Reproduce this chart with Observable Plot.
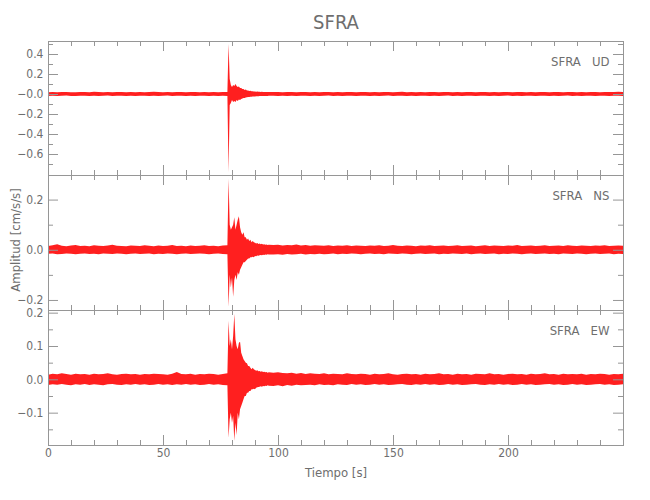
<!DOCTYPE html>
<html>
<head>
<meta charset="utf-8">
<script src="https://cdn.jsdelivr.net/npm/d3@7"></script>
<script src="https://cdn.jsdelivr.net/npm/@observablehq/plot@0.6"></script>
<style>
  html, body { margin: 0; padding: 0; background: white; }
  #chart { width: 650px; height: 500px; position: relative; }
  #chart svg { display: block; }
</style>
</head>
<body>
<div id="chart"></div>
<script>
// ---- Data ----
const stationTitle = "SFRA";
const xTitle = "Tiempo [s]";
const yTitle = "Amplitud [cm/s/s]";
const componentNames = ["SFRA\u00a0\u00a0\u00a0UD", "SFRA\u00a0\u00a0\u00a0NS", "SFRA\u00a0\u00a0\u00a0EW"];

// sample times (s) of the envelope readings
const times = [0,2,4,6,8,10,12,14,16,18,20,22,24,26,28,30,32,34,36,38,40,42,44,46,48,50,52,54,56,58,60,62,64,66,68,70,72,74,76,
78,78.5,79,79.5,80,80.5,81,81.5,82,82.5,83,83.5,84,84.5,85,85.5,86,86.5,87,87.5,88,88.5,89,89.5,90,90.5,91,91.5,92,92.5,93,93.5,94,94.5,95,95.5,96,
98,100,102,104,106,108,110,112,114,116,118,120,122,124,126,128,130,132,134,136,138,140,142,144,146,148,150,152,154,156,158,160,162,164,166,168,170,172,174,176,178,180,182,184,186,188,190,192,194,196,198,200,202,204,206,208,210,212,214,216,218,220,222,224,226,228,230,232,234,236,238,240,242,244,246,248,250];

// UD component: upper / lower envelope (cm/s/s)
const udHi = [0.018,0.020,0.017,0.019,0.021,0.018,0.017,0.020,0.019,0.018,0.022,0.019,0.017,0.020,0.018,0.019,0.021,0.018,0.020,0.017,0.019,0.018,0.020,0.023,0.019,0.018,0.020,0.017,0.019,0.021,0.018,0.020,0.019,0.018,0.020,0.017,0.019,0.018,0.020,
0.02,0.50,0.15,0.09,0.07,0.09,0.08,0.10,0.08,0.07,0.075,0.06,0.06,0.05,0.05,0.04,0.045,0.035,0.035,0.03,0.032,0.028,0.027,0.026,0.025,0.023,0.024,0.022,0.023,0.021,0.022,0.020,0.021,0.020,0.019,0.020,0.019,
0.019,0.020,0.018,0.021,0.019,0.018,0.020,0.019,0.017,0.020,0.018,0.021,0.019,0.018,0.020,0.017,0.019,0.020,0.018,0.019,0.021,0.018,0.019,0.017,0.020,0.019,0.018,0.020,0.022,0.018,0.019,0.017,0.020,0.018,0.019,0.021,0.018,0.020,0.019,0.017,0.020,0.018,0.019,0.021,0.018,0.019,0.020,0.017,0.019,0.018,0.020,0.019,0.018,0.021,0.019,0.017,0.020,0.018,0.019,0.020,0.018,0.019,0.021,0.018,0.020,0.019,0.017,0.020,0.018,0.019,0.020,0.018,0.021,0.019,0.020,0.023,0.020];
const udLo = [-0.019,-0.017,-0.020,-0.018,-0.016,-0.019,-0.021,-0.017,-0.018,-0.019,-0.017,-0.020,-0.018,-0.016,-0.019,-0.018,-0.017,-0.020,-0.018,-0.019,-0.017,-0.018,-0.020,-0.017,-0.019,-0.018,-0.016,-0.019,-0.018,-0.017,-0.020,-0.018,-0.019,-0.017,-0.018,-0.020,-0.018,-0.019,-0.017,
-0.02,-0.78,-0.11,-0.09,-0.06,-0.08,-0.07,-0.08,-0.06,-0.07,-0.055,-0.06,-0.05,-0.045,-0.04,-0.04,-0.035,-0.033,-0.03,-0.03,-0.028,-0.027,-0.025,-0.026,-0.024,-0.023,-0.022,-0.022,-0.021,-0.021,-0.020,-0.021,-0.019,-0.020,-0.019,-0.019,-0.018,
-0.018,-0.019,-0.017,-0.020,-0.018,-0.019,-0.017,-0.018,-0.020,-0.017,-0.019,-0.018,-0.016,-0.019,-0.018,-0.020,-0.017,-0.018,-0.019,-0.017,-0.018,-0.020,-0.017,-0.019,-0.018,-0.016,-0.019,-0.018,-0.017,-0.020,-0.018,-0.019,-0.017,-0.018,-0.020,-0.017,-0.019,-0.018,-0.016,-0.019,-0.018,-0.020,-0.017,-0.018,-0.019,-0.017,-0.018,-0.020,-0.017,-0.019,-0.018,-0.016,-0.019,-0.018,-0.020,-0.017,-0.018,-0.019,-0.017,-0.018,-0.020,-0.017,-0.019,-0.018,-0.016,-0.019,-0.018,-0.020,-0.017,-0.018,-0.019,-0.017,-0.018,-0.020,-0.018,-0.017,-0.019];

// NS component
const nsHi = [0.015,0.018,0.022,0.016,0.014,0.017,0.019,0.015,0.016,0.014,0.018,0.016,0.015,0.017,0.020,0.016,0.015,0.014,0.017,0.016,0.015,0.018,0.016,0.014,0.017,0.015,0.016,0.019,0.015,0.016,0.014,0.017,0.015,0.016,0.018,0.015,0.016,0.014,0.017,
0.018,0.283,0.10,0.08,0.09,0.10,0.13,0.08,0.10,0.12,0.134,0.09,0.07,0.06,0.07,0.05,0.05,0.04,0.045,0.035,0.04,0.03,0.035,0.03,0.028,0.025,0.027,0.023,0.025,0.022,0.024,0.021,0.022,0.020,0.021,0.019,0.020,
0.019,0.020,0.017,0.019,0.018,0.021,0.017,0.019,0.016,0.018,0.017,0.016,0.018,0.015,0.017,0.016,0.018,0.015,0.017,0.016,0.015,0.017,0.016,0.018,0.015,0.016,0.019,0.016,0.015,0.017,0.016,0.014,0.017,0.016,0.018,0.015,0.016,0.017,0.015,0.016,0.018,0.015,0.016,0.017,0.014,0.016,0.018,0.015,0.017,0.016,0.015,0.017,0.016,0.019,0.015,0.016,0.017,0.015,0.016,0.018,0.015,0.016,0.017,0.015,0.018,0.016,0.015,0.017,0.016,0.015,0.017,0.016,0.018,0.015,0.016,0.017,0.016];
const nsLo = [-0.016,-0.015,-0.018,-0.017,-0.015,-0.016,-0.018,-0.016,-0.015,-0.017,-0.016,-0.018,-0.015,-0.016,-0.017,-0.015,-0.016,-0.018,-0.016,-0.015,-0.017,-0.016,-0.015,-0.018,-0.016,-0.017,-0.015,-0.016,-0.018,-0.016,-0.015,-0.017,-0.016,-0.015,-0.016,-0.018,-0.016,-0.015,-0.017,
-0.018,-0.227,-0.10,-0.15,-0.11,-0.187,-0.12,-0.10,-0.12,-0.09,-0.10,-0.08,-0.07,-0.06,-0.05,-0.05,-0.045,-0.04,-0.035,-0.035,-0.03,-0.03,-0.028,-0.03,-0.025,-0.026,-0.023,-0.024,-0.022,-0.021,-0.022,-0.020,-0.021,-0.019,-0.020,-0.018,-0.019,
-0.019,-0.018,-0.020,-0.017,-0.019,-0.018,-0.016,-0.019,-0.017,-0.018,-0.016,-0.018,-0.017,-0.015,-0.018,-0.016,-0.017,-0.015,-0.016,-0.018,-0.016,-0.015,-0.017,-0.016,-0.018,-0.015,-0.016,-0.017,-0.015,-0.016,-0.018,-0.016,-0.015,-0.017,-0.016,-0.015,-0.018,-0.016,-0.017,-0.015,-0.016,-0.017,-0.015,-0.018,-0.016,-0.015,-0.017,-0.016,-0.015,-0.018,-0.016,-0.017,-0.015,-0.016,-0.018,-0.016,-0.015,-0.017,-0.016,-0.015,-0.017,-0.016,-0.018,-0.015,-0.016,-0.017,-0.015,-0.016,-0.018,-0.016,-0.015,-0.017,-0.016,-0.015,-0.018,-0.016,-0.017];

// EW component
const ewHi = [0.014,0.017,0.015,0.018,0.016,0.014,0.017,0.015,0.016,0.014,0.017,0.015,0.016,0.018,0.015,0.014,0.016,0.017,0.015,0.016,0.014,0.016,0.015,0.017,0.016,0.015,0.014,0.017,0.022,0.016,0.015,0.017,0.014,0.016,0.015,0.017,0.016,0.014,0.016,
0.018,0.176,0.10,0.12,0.09,0.13,0.196,0.12,0.10,0.09,0.11,0.113,0.08,0.07,0.06,0.055,0.05,0.048,0.04,0.04,0.035,0.03,0.035,0.03,0.028,0.026,0.027,0.024,0.025,0.023,0.024,0.022,0.023,0.021,0.022,0.020,0.021,
0.020,0.021,0.019,0.018,0.020,0.017,0.019,0.016,0.018,0.017,0.016,0.018,0.015,0.017,0.016,0.015,0.018,0.016,0.015,0.017,0.016,0.014,0.017,0.015,0.016,0.018,0.015,0.014,0.016,0.017,0.015,0.016,0.014,0.017,0.015,0.016,0.018,0.015,0.016,0.014,0.017,0.015,0.016,0.014,0.017,0.016,0.015,0.018,0.015,0.016,0.014,0.016,0.017,0.015,0.016,0.014,0.017,0.015,0.016,0.018,0.015,0.016,0.014,0.017,0.015,0.016,0.015,0.017,0.014,0.016,0.015,0.017,0.016,0.014,0.016,0.015,0.017];
const ewLo = [-0.017,-0.015,-0.016,-0.014,-0.016,-0.018,-0.015,-0.016,-0.014,-0.017,-0.015,-0.016,-0.018,-0.015,-0.014,-0.016,-0.017,-0.015,-0.016,-0.014,-0.016,-0.015,-0.017,-0.016,-0.014,-0.016,-0.015,-0.017,-0.015,-0.016,-0.014,-0.016,-0.015,-0.017,-0.016,-0.014,-0.016,-0.015,-0.017,
-0.018,-0.175,-0.12,-0.10,-0.13,-0.11,-0.184,-0.13,-0.167,-0.10,-0.12,-0.09,-0.08,-0.07,-0.06,-0.05,-0.05,-0.04,-0.04,-0.035,-0.035,-0.03,-0.03,-0.028,-0.03,-0.025,-0.024,-0.023,-0.022,-0.021,-0.022,-0.020,-0.021,-0.019,-0.020,-0.018,-0.019,
-0.020,-0.018,-0.021,-0.017,-0.019,-0.016,-0.018,-0.017,-0.016,-0.018,-0.015,-0.017,-0.016,-0.018,-0.015,-0.016,-0.017,-0.014,-0.016,-0.015,-0.017,-0.016,-0.014,-0.016,-0.015,-0.017,-0.016,-0.015,-0.014,-0.016,-0.017,-0.015,-0.016,-0.014,-0.016,-0.015,-0.017,-0.016,-0.014,-0.016,-0.015,-0.017,-0.016,-0.015,-0.014,-0.016,-0.017,-0.015,-0.016,-0.014,-0.016,-0.015,-0.017,-0.016,-0.014,-0.016,-0.015,-0.017,-0.016,-0.015,-0.014,-0.016,-0.015,-0.017,-0.016,-0.014,-0.016,-0.015,-0.017,-0.016,-0.015,-0.014,-0.016,-0.015,-0.017,-0.016,-0.015];

// axes
const xDomain = [0, 250];
const xMajor = [0, 50, 100, 150, 200];
const xMajorLabels = ["0", "50", "100", "150", "200"];
const xMinor = [10,20,30,40,60,70,80,90,110,120,130,140,160,170,180,190,210,220,230,240];

const udDomain = [-0.81, 0.53];
const udMajor = [0.4, 0.2, 0, -0.2, -0.4, -0.6];
const udMajorLabels = ["0.4", "0.2", "\u22120.0", "\u22120.2", "\u22120.4", "\u22120.6"];
const udMinor = [0.5, 0.3, 0.1, -0.1, -0.3, -0.5, -0.7];

const nsDomain = [-0.24, 0.298];
const nsMajor = [0.2, 0, -0.2];
const nsMajorLabels = ["0.2", "0.0", "\u22120.2"];
const nsMinor = [0.1, -0.1];

const ewDomain = [-0.197, 0.208];
const ewMajor = [0.2, 0.1, 0, -0.1];
const ewMajorLabels = ["0.2", "0.1", "0.0", "\u22120.1"];
const ewMinor = [0.15, 0.05, -0.05, -0.15];

// ---- Drawing ----
const FONT = "'Liberation Sans Narrow', 'DejaVu Sans Condensed', 'Roboto Condensed', sans-serif";
const AX = "#969696";
const TX = "#6e6e6e";
const W = 650, ML = 48, MR = 27;
const PW = W - ML - MR;

function panel({hi, lo, domain, major, majorLabels, minor, name, ph, mt, mb, extra}) {
  const data = times.map((t, i) => ({t, hi: hi[i], lo: lo[i]}));
  const marks = [
    Plot.areaY(data, {x: "t", y1: "lo", y2: "hi", fill: "#ff0000", fillOpacity: 0.88}),
    Plot.frame({stroke: AX}),
    Plot.ruleY(major, {stroke: AX, insetRight: PW - 10}),
    Plot.ruleY(minor, {stroke: AX, insetRight: PW - 5}),
    Plot.ruleY(major, {stroke: AX, insetLeft: PW - 10}),
    Plot.ruleY(minor, {stroke: AX, insetLeft: PW - 5}),
    Plot.ruleX(xMajor, {stroke: AX, insetTop: ph - 10}),
    Plot.ruleX(xMinor, {stroke: AX, insetTop: ph - 5}),
    Plot.ruleX(xMajor, {stroke: AX, insetBottom: ph - 10}),
    Plot.ruleX(xMinor, {stroke: AX, insetBottom: ph - 5}),
    Plot.text(major, {y: d => d, text: (d, i) => majorLabels[i], frameAnchor: "left", dx: -5,
      textAnchor: "end", lineAnchor: "middle", fill: TX, fontSize: 12}),
    Plot.text([name], {text: d => d, frameAnchor: "top-right", dx: -14, dy: 20,
      textAnchor: "end", lineAnchor: "middle", fill: TX, fontSize: 13}),
    ...(extra || [])
  ];
  return Plot.plot({
    width: W,
    height: ph + mt + mb,
    marginLeft: ML, marginRight: MR, marginTop: mt, marginBottom: mb,
    x: {domain: xDomain, axis: null},
    y: {domain, axis: null},
    style: {background: "transparent", overflow: "visible", fontFamily: FONT},
    marks
  });
}

const chart = document.getElementById("chart");

chart.appendChild(panel({
  hi: udHi, lo: udLo, domain: udDomain, major: udMajor, majorLabels: udMajorLabels, minor: udMinor,
  name: componentNames[0], ph: 134, mt: 41, mb: 0,
  extra: [Plot.text([stationTitle], {text: d => d, frameAnchor: "top", dy: -19, lineAnchor: "middle", fill: TX, fontSize: 20})]
}));
chart.appendChild(panel({
  hi: nsHi, lo: nsLo, domain: nsDomain, major: nsMajor, majorLabels: nsMajorLabels, minor: nsMinor,
  name: componentNames[1], ph: 135, mt: 0, mb: 0,
  extra: [Plot.text([yTitle], {text: d => d, frameAnchor: "left", dx: -33, dy: -3, rotate: -90,
    textAnchor: "middle", lineAnchor: "middle", fill: TX, fontSize: 13})]
}));
chart.appendChild(panel({
  hi: ewHi, lo: ewLo, domain: ewDomain, major: ewMajor, majorLabels: ewMajorLabels, minor: ewMinor,
  name: componentNames[2], ph: 135, mt: 0, mb: 55,
  extra: [
    Plot.text(xMajor, {x: d => d, text: (d, i) => xMajorLabels[i], frameAnchor: "bottom", dy: 8,
      lineAnchor: "middle", fill: TX, fontSize: 12}),
    Plot.text([xTitle], {text: d => d, frameAnchor: "bottom", dy: 27, lineAnchor: "middle", fill: TX, fontSize: 13})
  ]
}));
</script>
</body>
</html>
